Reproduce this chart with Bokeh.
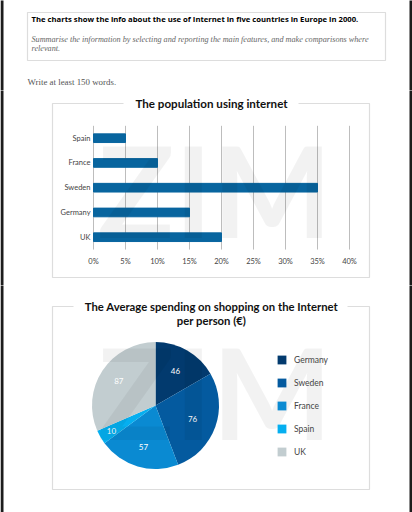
import math
from bokeh.core.properties import value
from bokeh.embed import file_html
from bokeh.layouts import column
from bokeh.models import (BoxAnnotation, ColumnDataSource, Label, Legend, LegendItem,
                          Range1d, FixedTicker)
from bokeh.plotting import figure
from bokeh.resources import INLINE

# ---- data ----
bar_categories = ["UK", "Germany", "Sweden", "France", "Spain"]
bar_values = [20, 15, 35, 10, 5]
bar_ticks = [0, 5, 10, 15, 20, 25, 30, 35, 40]
pie_categories = ["Germany", "Sweden", "France", "Spain", "UK"]
pie_values = [46, 76, 57, 10, 87]
pie_colors = ["#023a6e", "#045a9f", "#0a8ad2", "#05aff0", "#c2cdd0"]
pie_label_radius = [0.63, 0.62, 0.68, 0.8, 0.69]

header_title = "The charts show the info about the use of Internet in five countries in Europe in 2000."
header_italic = ["Summarise the information by selecting and reporting the main features, and make comparisons where",
                 "relevant."]
header_write = "Write at least 150 words."
bar_title = "The population using internet"
pie_title = ["The Average spending on shopping on the Internet", "per person (€)"]
watermark = "ZIM"

W = 412
FONT = "Lato"
BORDER = "#8e8e8e"
GRID = "#bdbdbd"
EDGE = "#1c1c1c"


def blank(height, x_range, y_range, axes=False):
    kw = {} if axes else dict(x_axis_location=None, y_axis_location=None)
    p = figure(width=W, height=height, output_backend="svg", toolbar_location=None,
               min_border=0, outline_line_color=None, frame_align=False,
               x_range=x_range, y_range=y_range, **kw)
    p.background_fill_color = "white"
    p.border_fill_color = "white"
    p.grid.visible = False
    return p


def box(p, l, r, t, b, fill=None):
    p.add_layout(BoxAnnotation(left=l, right=r, top=t, bottom=b, left_units="canvas", right_units="canvas",
                               top_units="canvas", bottom_units="canvas",
                               fill_alpha=1 if fill else 0, fill_color=fill or "white",
                               line_color=None if fill else BORDER, line_width=1.2, level="underlay"))


def text(p, x, y, s, size, color="#111111", style="normal", font=FONT, align="left", level="annotation", alpha=1.0):
    p.add_layout(Label(x=x, y=y, x_units="canvas", y_units="canvas", text=s, text_font=font,
                       text_font_size=f"{size}px", text_color=color, text_font_style=style, text_alpha=alpha,
                       text_align=align, text_baseline="middle", level=level))


# ---- header ----
H1 = 90
head = blank(H1, Range1d(0, 1), Range1d(0, 1))
box(head, 27, 385, 12, 60)
text(head, 31, 18.5, header_title, 7.7, "#000000", "bold", "Open Sans")
text(head, 31, 38.5, header_italic[0], 8.2, "#666666", "italic", "Liberation Serif")
text(head, 31, 48, header_italic[1], 8.2, "#666666", "italic", "Liberation Serif")
text(head, 27, 81, header_write, 8.9, "#555555", "normal", "Liberation Serif")

# ---- bars ----
H2 = 195
PX = 6.4      # pixels per percent
PY = 24.75    # pixels per category
X0, Y0 = 93, 146.7   # canvas position of 0% and of the first category
bar = blank(H2, Range1d(-X0 / PX, (W - X0) / PX), Range1d(-(H2 - Y0) / PY, Y0 / PY), axes=True)
box(bar, 52, 369, 13, 187)
box(bar, 123, 298, 11, 15, fill="white")
idx = list(range(len(bar_categories)))
low, high = idx[0] - 0.5, idx[-1] + 0.5
bar.segment(x0=bar_ticks, x1=bar_ticks, y0=low, y1=high, line_color=GRID, line_width=1)
bar.hbar(y=idx, left=0, right=bar_values, height=0.35, color="#08659f")
xax, yax = bar.xaxis[0], bar.yaxis[0]
xax.fixed_location = low
xax.ticker = FixedTicker(ticks=bar_ticks)
xax.major_label_overrides = {t: f"{t}%" for t in bar_ticks}
yax.fixed_location = 0
yax.ticker = FixedTicker(ticks=idx)
yax.major_label_overrides = dict(zip(idx, bar_categories))
for ax, standoff in ((xax, 7), (yax, 3)):
    ax.axis_line_color = None
    ax.major_tick_line_color = None
    ax.minor_tick_line_color = None
    ax.major_tick_in = 0
    ax.major_tick_out = 0
    ax.major_label_standoff = standoff
    ax.major_label_text_font = FONT
    ax.major_label_text_font_size = "7.5px"
    ax.major_label_text_color = "#444444"
text(bar, 97, 98, watermark, 127, "#000000", "bold", alpha=0.05)
text(bar, 211, 13, bar_title, 11.6, "#111111", "bold", align="center")

# ---- pie ----
H3 = 227
R = 63.5
cx, cy = 155, 120
pie = blank(H3, Range1d(-cx / R, (W - cx) / R), Range1d(-(H3 - cy) / R, cy / R))
box(pie, 52, 369, 21, 204)
box(pie, 73, 347, 19, 23, fill="white")
total = sum(pie_values)
starts, ends, lx, ly = [], [], [], []
acc = 0
for v, rr in zip(pie_values, pie_label_radius):
    a0 = math.pi / 2 - 2 * math.pi * acc / total
    a1 = math.pi / 2 - 2 * math.pi * (acc + v) / total
    mid = (a0 + a1) / 2
    starts.append(a0)
    ends.append(a1)
    lx.append(rr * math.cos(mid))
    ly.append(rr * math.sin(mid))
    acc += v
src = ColumnDataSource(dict(start=ends, end=starts, color=pie_colors, name=pie_categories,
                            value=[str(v) for v in pie_values], lx=lx, ly=ly))
w = pie.wedge(x=0, y=0, radius=1, start_angle="start", end_angle="end", color="color", line_color=None, source=src)
pie.text(x="lx", y="ly", text="value", text_color="white", text_font=value(FONT), text_font_size="8px",
         text_align="center", text_baseline="middle", source=src)
text(pie, 97, 105, watermark, 127, "#000000", "bold", alpha=0.05)
legend = Legend(items=[LegendItem(label=n, renderers=[w], index=i) for i, n in enumerate(pie_categories)],
                location=(276, 55), border_line_color=None, background_fill_alpha=0,
                glyph_width=11, glyph_height=11, label_height=11, spacing=12, padding=0, margin=0, label_standoff=7,
                label_text_font=FONT, label_text_font_size="8.5px", label_text_color="#444444")
pie.add_layout(legend)
text(pie, 211, 21, pie_title[0], 11.3, "#111111", "bold", align="center")
text(pie, 211, 35, pie_title[1], 11.3, "#111111", "bold", align="center")

# dark page edges of the photographed page
for fig, h in ((head, H1), (bar, H2), (pie, H3)):
    box(fig, 0, 3, -6, h + 6, fill=EDGE)
    box(fig, 409, 412, -6, h + 6, fill=EDGE)

page = column(head, bar, pie, spacing=0)
open("out.html", "w").write(file_html(page, INLINE))
